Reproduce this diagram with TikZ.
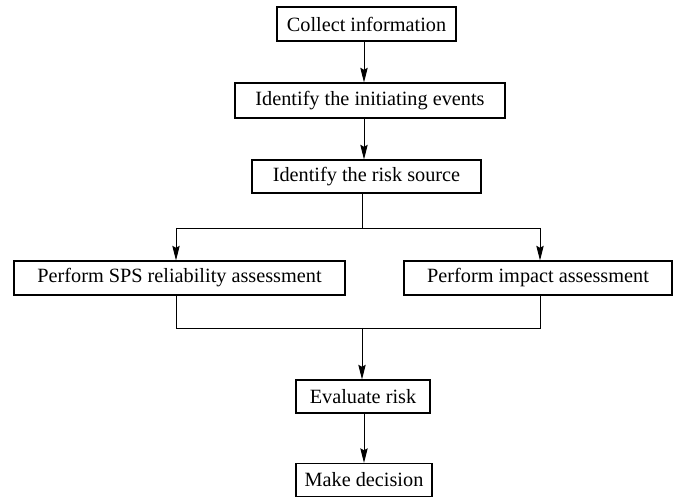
\documentclass[tikz,border=0pt]{standalone}
\usepackage{fontspec}
\setmainfont{Liberation Serif}
\usetikzlibrary{arrows.meta}
\begin{document}
\begin{tikzpicture}[x=0.75pt,y=-0.75pt,
  box/.style={draw, line width=0.8pt, inner sep=0pt, font=\fontsize{15.2}{18}\selectfont},
  arr/.style={line width=0.7pt, -{Stealth[length=11pt,width=5.5pt,inset=1.5pt]}},
  ln/.style={line width=0.7pt}]
\useasboundingbox (0,0) rectangle (675,498);
\node[box, minimum width=134.25pt, minimum height=25.5pt] (b1) at (366.5,24) {Collect information};
\node[box, minimum width=202.5pt, minimum height=26.25pt] (b2) at (370,100.5) {Identify the initiating events};
\node[box, minimum width=171.75pt, minimum height=24.75pt] (b3) at (366.5,176.5) {Identify the risk source};
\node[box, minimum width=248.25pt, minimum height=25.5pt] (b4) at (179.5,278) {Perform SPS reliability assessment};
\node[box, minimum width=201pt, minimum height=25.5pt] (b5) at (538,278) {Perform impact assessment};
\node[box, minimum width=100.5pt, minimum height=24.75pt] (b6) at (363,396.5) {Evaluate risk};
\node[box, minimum width=102pt, minimum height=24.75pt] (b7) at (364,480) {Make decision};
\coordinate (s) at (362,228);
\coordinate (m) at (362,328);
\coordinate (l1) at (176,228);
\coordinate (r1) at (540,228);
\coordinate (l2) at (176,328);
\coordinate (r2) at (540,328);
\coordinate (c1) at (364,0);
\draw[arr] (b1.south -| c1) -- (b2.north -| c1);
\draw[arr] (b2.south -| c1) -- (b3.north -| c1);
\draw[ln] (b3.south -| s) -- (s);
\draw[ln] (l1) -- (r1);
\draw[arr] (l1) -- (l1 |- b4.north);
\draw[arr] (r1) -- (r1 |- b5.north);
\draw[ln] (l2 |- b4.south) -- (l2) -- (r2) -- (r2 |- b5.south);
\draw[arr] (m) -- (m |- b6.north);
\draw[arr] (b6.south -| c1) -- (b7.north -| c1);
\end{tikzpicture}
\end{document}
